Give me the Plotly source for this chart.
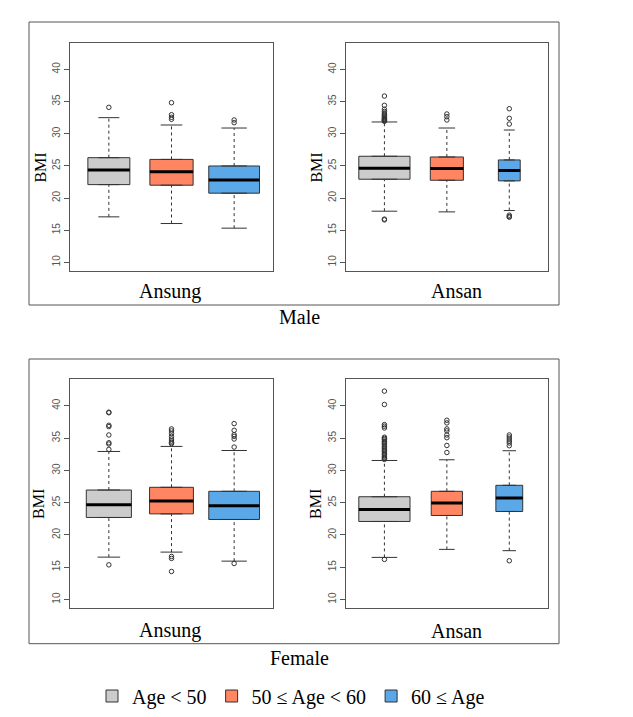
import plotly.graph_objects as go

# ---------------- data ----------------
GROUPS = ["Age < 50", "50 \u2264 Age < 60", "60 \u2264 Age"]
POSITIONS = [1, 2, 3]
COLORS = ["#CCCCCC", "#FF8563", "#5AA8E8"]

MALE_ANSUNG_Q1 = [22.08, 21.99, 20.75]
MALE_ANSUNG_MED = [24.36, 24.10, 22.81]
MALE_ANSUNG_Q3 = [26.27, 26.00, 24.98]
MALE_ANSUNG_LOW = [17.07, 16.03, 15.31]
MALE_ANSUNG_HIGH = [32.49, 31.35, 30.88]
MALE_ANSUNG_OUT = [[34.10], [34.82, 32.95, 32.55, 32.24], [32.13, 31.71]]
MALE_ANSUNG_WIDTH = [0.67, 0.69, 0.81]

MALE_ANSAN_Q1 = [22.92, 22.76, 22.66]
MALE_ANSAN_MED = [24.63, 24.57, 24.26]
MALE_ANSAN_Q3 = [26.49, 26.38, 25.92]
MALE_ANSAN_LOW = [17.95, 17.84, 18.05]
MALE_ANSAN_HIGH = [31.82, 30.88, 30.57]
MALE_ANSAN_OUT = [
    [35.85, 34.41, 33.78, 33.46, 33.21, 32.97, 32.83, 32.62, 32.49, 32.37,
     32.26, 32.18, 32.09, 32.02, 31.93, 16.72, 16.60],
    [33.06, 32.64, 32.13],
    [33.88, 32.39, 31.50, 17.33, 17.11, 17.02],
]
MALE_ANSAN_WIDTH = [0.82, 0.53, 0.35]

FEMALE_ANSUNG_Q1 = [22.71, 23.27, 22.40]
FEMALE_ANSUNG_MED = [24.68, 25.25, 24.52]
FEMALE_ANSUNG_Q3 = [26.96, 27.38, 26.76]
FEMALE_ANSUNG_LOW = [16.57, 17.35, 15.95]
FEMALE_ANSUNG_HIGH = [32.93, 33.71, 33.08]
FEMALE_ANSUNG_OUT = [
    [39.01, 38.92, 36.98, 36.78, 35.48, 34.28, 34.08, 33.25, 15.38],
    [36.42, 36.11, 35.69, 35.27, 34.86, 34.55, 34.33, 34.13, 16.68, 16.37, 14.35],
    [37.24, 36.20, 35.53, 35.27, 34.86, 33.61, 15.59],
]
FEMALE_ANSUNG_WIDTH = [0.72, 0.70, 0.81]

FEMALE_ANSAN_Q1 = [22.09, 23.02, 23.64]
FEMALE_ANSAN_MED = [23.96, 24.94, 25.72]
FEMALE_ANSAN_Q3 = [25.92, 26.76, 27.69]
FEMALE_ANSAN_LOW = [16.53, 17.77, 17.57]
FEMALE_ANSAN_HIGH = [31.53, 31.64, 33.04]
FEMALE_ANSAN_OUT = [
    [42.27, 40.20, 37.09, 36.84, 36.57, 35.13, 34.96, 34.77, 34.52, 34.34,
     34.11, 33.92, 33.68, 33.47, 33.29, 33.06, 32.88, 32.61, 32.43, 32.21,
     32.02, 31.86, 31.70, 16.22],
    [37.76, 37.35, 36.42, 36.11, 35.48, 35.06, 33.86, 32.77],
    [35.48, 35.17, 34.86, 34.55, 34.24, 33.82, 16.01],
]
FEMALE_ANSAN_WIDTH = [0.82, 0.50, 0.43]

Y_TICKS = [10, 15, 20, 25, 30, 35, 40]
Y_RANGE = [8.65, 44.1]
X_RANGE = [0.38, 3.62]

PANELS = [
    # (suffix, site label, q1, med, q3, low, high, outliers, widths)
    ("", "Ansung", MALE_ANSUNG_Q1, MALE_ANSUNG_MED, MALE_ANSUNG_Q3,
     MALE_ANSUNG_LOW, MALE_ANSUNG_HIGH, MALE_ANSUNG_OUT, MALE_ANSUNG_WIDTH),
    ("2", "Ansan", MALE_ANSAN_Q1, MALE_ANSAN_MED, MALE_ANSAN_Q3,
     MALE_ANSAN_LOW, MALE_ANSAN_HIGH, MALE_ANSAN_OUT, MALE_ANSAN_WIDTH),
    ("3", "Ansung", FEMALE_ANSUNG_Q1, FEMALE_ANSUNG_MED, FEMALE_ANSUNG_Q3,
     FEMALE_ANSUNG_LOW, FEMALE_ANSUNG_HIGH, FEMALE_ANSUNG_OUT, FEMALE_ANSUNG_WIDTH),
    ("4", "Ansan", FEMALE_ANSAN_Q1, FEMALE_ANSAN_MED, FEMALE_ANSAN_Q3,
     FEMALE_ANSAN_LOW, FEMALE_ANSAN_HIGH, FEMALE_ANSAN_OUT, FEMALE_ANSAN_WIDTH),
]

# ---------------- figure ----------------
W, H = 633, 717
LINE = "#333333"
SERIF = "Liberation Serif, Times New Roman, serif"

fig = go.Figure()

for pi, (suf, site, q1, med, q3, low, high, outs, widths) in enumerate(PANELS):
    xa, ya = "x" + suf, "y" + suf
    for g in range(3):
        pos, w = POSITIONS[g], widths[g]
        # box body (whiskers drawn separately, dashed)
        fig.add_trace(go.Box(
            x=[pos], q1=[q1[g]], median=[med[g]], q3=[q3[g]],
            lowerfence=[q1[g]], upperfence=[q3[g]],
            width=w, whiskerwidth=0.5, boxpoints=False,
            fillcolor=COLORS[g], line=dict(color=LINE, width=1),
            name=GROUPS[g], legendgroup=GROUPS[g], showlegend=(pi == 0),
            hoverinfo="skip", xaxis=xa, yaxis=ya,
        ))
        # dashed whiskers
        for a, b in ((q3[g], high[g]), (low[g], q1[g])):
            fig.add_trace(go.Scatter(
                x=[pos, pos], y=[a, b], mode="lines",
                line=dict(color=LINE, width=1, dash="3px,3px"),
                showlegend=False, hoverinfo="skip", xaxis=xa, yaxis=ya))
        # staples
        for v in (low[g], high[g]):
            fig.add_trace(go.Scatter(
                x=[pos - w / 4, pos + w / 4], y=[v, v], mode="lines",
                line=dict(color=LINE, width=1),
                showlegend=False, hoverinfo="skip", xaxis=xa, yaxis=ya))
        # thick median
        fig.add_trace(go.Scatter(
            x=[pos - w / 2, pos + w / 2], y=[med[g], med[g]], mode="lines",
            line=dict(color="black", width=3),
            showlegend=False, hoverinfo="skip", xaxis=xa, yaxis=ya))
        # outliers
        fig.add_trace(go.Scatter(
            x=[pos] * len(outs[g]), y=outs[g], mode="markers",
            marker=dict(symbol="circle-open", size=4.5, color=LINE,
                        line=dict(width=1)),
            showlegend=False, hoverinfo="skip", xaxis=xa, yaxis=ya))

# domains (pixels -> paper)
def px(x):
    return x / W

def py(y):
    return 1 - y / H

x_left = [px(70), px(273)]
x_right = [px(345.7), px(548)]
y_top = [py(271), py(43)]
y_bot = [py(608.3), py(379.3)]
domains = [(x_left, y_top), (x_right, y_top), (x_left, y_bot), (x_right, y_bot)]

axis_common = dict(showline=True, mirror=True, linecolor="#555555", linewidth=1,
                   showgrid=False, zeroline=False)
layout = {}
for i, (dx, dy) in enumerate(domains):
    suf = "" if i == 0 else str(i + 1)
    layout["xaxis" + suf] = dict(domain=dx, range=X_RANGE, showticklabels=False,
                                 ticks="", anchor="y" + suf, **axis_common)
    layout["yaxis" + suf] = dict(domain=dy, range=Y_RANGE, tickvals=Y_TICKS,
                                 ticks="outside", ticklen=5, tickcolor="#555555",
                                 tickangle=-90,
                                 tickfont=dict(family="Liberation Sans, Arial", size=10,
                                               color="#555555"),
                                 anchor="x" + suf, **axis_common)

annotations = []
def ann(text, x, y, size, angle=0):
    annotations.append(dict(text=text, x=px(x), y=py(y), xref="paper", yref="paper",
                            showarrow=False, textangle=angle,
                            xanchor="center", yanchor="middle",
                            font=dict(family=SERIF, size=size, color="black")))

ann("Ansung", 170, 291, 20)
ann("Ansan", 456.7, 291, 20)
ann("Male", 299, 317, 20)
ann("Ansung", 170, 630.5, 20)
ann("Ansan", 456.7, 630.5, 20)
ann("Female", 299, 658, 20)
for (bx, by) in [(41, 167.6), (317, 167.6), (39, 504), (316, 504)]:
    ann("BMI", bx, by, 16, -90)

shapes = [
    dict(type="rect", xref="paper", yref="paper", x0=px(29), x1=px(559),
         y0=py(305), y1=py(22), line=dict(color="#555555", width=1)),
    dict(type="rect", xref="paper", yref="paper", x0=px(29), x1=px(559),
         y0=py(643.7), y1=py(359), line=dict(color="#555555", width=1)),
]

fig.update_layout(
    width=W, height=H, margin=dict(l=0, r=0, t=0, b=0),
    paper_bgcolor="white", plot_bgcolor="white",
    boxmode="overlay",
    annotations=annotations, shapes=shapes,
    legend=dict(orientation="h", x=px(291), xanchor="center", y=py(696),
                yanchor="middle", font=dict(family=SERIF, size=20, color="black"),
                bgcolor="rgba(0,0,0,0)"),
    **layout,
)

fig.write_html("out.html", config={"displayModeBar": False},
               post_script="document.body.style.margin='0';document.body.style.overflow='hidden';")
